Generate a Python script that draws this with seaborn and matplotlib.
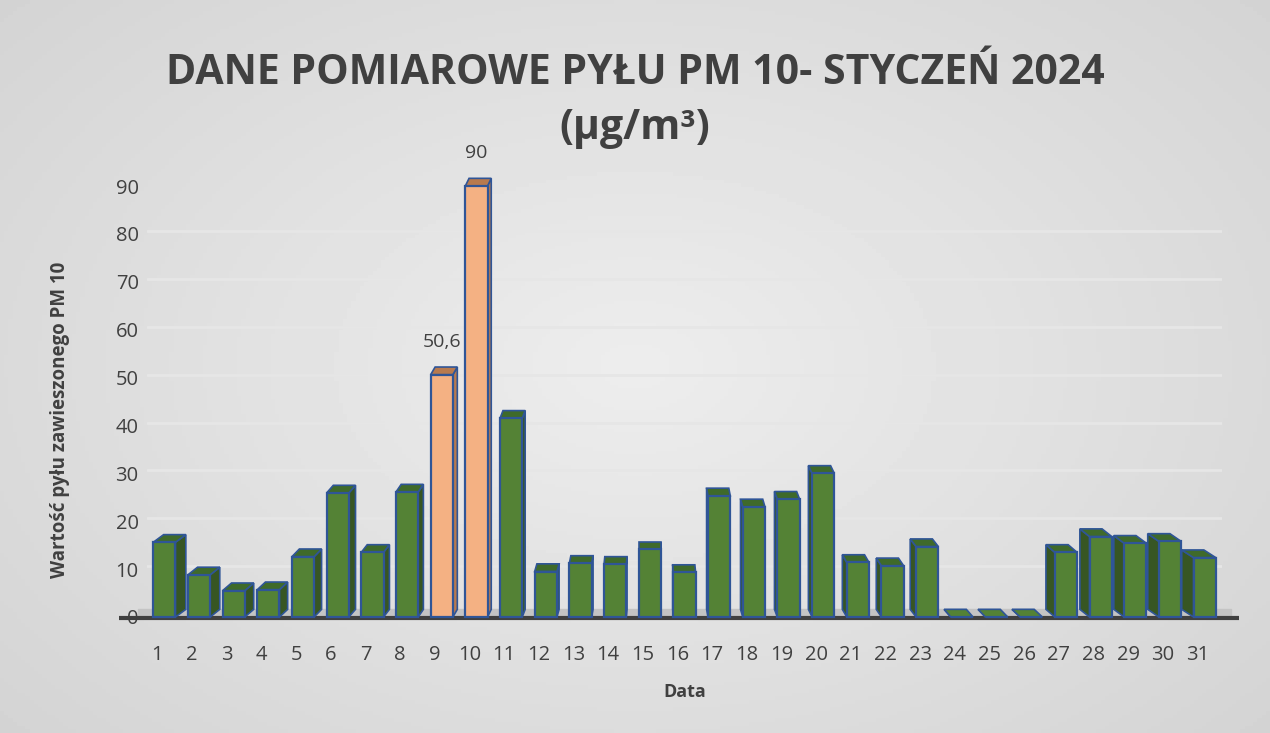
import numpy as np
import seaborn as sns
import matplotlib.pyplot as plt
import matplotlib.transforms as mtransforms
from matplotlib.patches import Polygon

# data: daily PM10 values, January 2024
days = [str(d) for d in range(1, 32)]
pm10 = [15.6, 8.8, 5.5, 5.7, 12.6, 25.9, 13.5, 26.1, 50.6, 90.0,
        41.5, 9.5, 11.2, 11.0, 14.1, 9.3, 25.3, 23.0, 24.6, 30.0,
        11.4, 10.7, 14.7, 0.0, 0.0, 0.0, 13.5, 16.8, 15.4, 15.8, 12.4]
labelled = {"9": "50,6", "10": "90"}
high_days = ["9", "10"]

green, green_side = "#548235", "#375623"
orange, orange_side = "#F4B183", "#B87A4E"
edge = "#2F5597"
text_col = "#404040"

sns.set_theme(style="white")
plt.rcParams['font.family'] = ['Open Sans', 'DejaVu Sans']

fig = plt.figure(figsize=(12.7, 7.33), dpi=100)

# background gradient
bg = fig.add_axes([0, 0, 1, 1], zorder=-10)
yy, xx = np.mgrid[0:1:200j, 0:1:300j]
r = np.sqrt(((xx - 0.5) / 0.8) ** 2 + ((yy - 0.5) / 0.9) ** 2)
bg.imshow(0.93 - 0.12 * r, cmap="gray", vmin=0, vmax=1, aspect="auto",
          extent=[0, 1, 0, 1])
bg.axis("off")

ax = fig.add_axes([147 / 1270, 1 - 617 / 733, 1075 / 1270, 431 / 733])
ax.set_facecolor("none")

colors = [orange if d in high_days else green for d in days]
sns.barplot(x=days, y=pm10, hue=days, palette=colors, legend=False,
            saturation=1, width=0.64, edgecolor=edge, linewidth=1.6,
            ax=ax, zorder=3)

ax.set_xlim(-0.5, 30.5)
ax.set_ylim(0, 90)
ax.set_yticks(range(0, 91, 10))

# gridlines
for v in range(10, 91, 10):
    ax.axhline(v + 0.6, color="#e6e6e6", lw=2, zorder=1)

# floor and axis line
ax.fill_between([-0.75, 30.75], 0, 1.6, color="#c4c4c4", zorder=1, clip_on=False)
ax.plot([-1.3, 31.0], [-0.3, -0.3], color="#404040", lw=3, zorder=2,
        clip_on=False, solid_capstyle="butt")

# pseudo 3D faces derived from drawn bars
for i, p in enumerate(ax.patches):
    x0, w, h = p.get_x(), p.get_width(), p.get_height()
    x1 = x0 + w
    d = 0.3 * (14 - i) / 14
    dy = 1.6
    is_high = days[i] in high_days
    side = orange_side if is_high else green_side
    top = orange_side if is_high else ("#3f6a2a" if h > 0 else green)
    sx = x1 if d >= 0 else x0
    ax.add_patch(Polygon([(sx, 0), (sx + d, dy), (sx + d, h + dy), (sx, h)],
                         closed=True, facecolor=side, edgecolor=edge, lw=1.2,
                         zorder=2.5, clip_on=False))
    ax.add_patch(Polygon([(x0, h), (x1, h), (x1 + d, h + dy), (x0 + d, h + dy)],
                         closed=True, facecolor=top, edgecolor=edge, lw=1.2,
                         zorder=2.5, clip_on=False))
    if days[i] in labelled:
        ax.text(x0 + w / 2, h + 5, labelled[days[i]], ha="center", va="bottom",
                fontsize=14, color=text_col, clip_on=False)
    p.set_clip_on(False)

for s in ax.spines.values():
    s.set_visible(False)
ax.tick_params(axis="both", length=0, labelsize=14.5, labelcolor=text_col)
ax.tick_params(axis="y", pad=6)
ax.tick_params(axis="x", pad=20)
shift = mtransforms.ScaledTranslation(-7 / 100, 0, fig.dpi_scale_trans)
for t in ax.get_xticklabels():
    t.set_transform(t.get_transform() + shift)

ax.set_xlabel("Data", fontsize=13, fontweight="bold", color=text_col)
ax.xaxis.set_label_coords(0.5, -0.153)
ax.set_ylabel("Wartość pyłu zawieszonego PM 10", fontsize=13.5, fontweight="bold",
              color=text_col)
ax.yaxis.set_label_coords(-0.072, 0.457)

fig.text(0.5, 0.9, "DANE POMIAROWE PYŁU PM 10- STYCZEŃ 2024", ha="center",
         va="center", fontsize=29.5, fontweight="bold", color=text_col)
fig.text(0.5, 0.825, "(µg/m³)", ha="center", va="center", fontsize=29.5,
         fontweight="bold", color=text_col)

fig.savefig("out.png", dpi=100)
